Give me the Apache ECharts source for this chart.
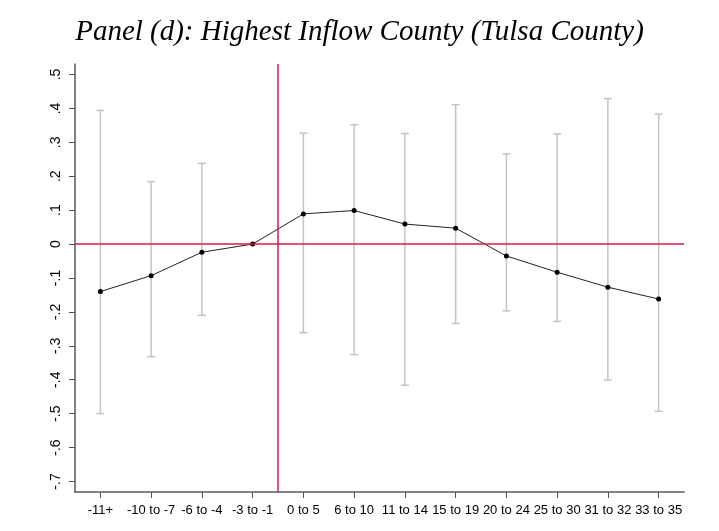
<!DOCTYPE html>
<html>
<head>
<meta charset="utf-8">
<script src="https://cdn.jsdelivr.net/npm/echarts@6/dist/echarts.min.js"></script>
<style>html,body{margin:0;padding:0;background:#fff}#chart{width:719px;height:531px}</style>
</head>
<body>
<div id="chart"></div>
<script>
const categories = ['-11+', '-10 to -7', '-6 to -4', '-3 to -1', '0 to 5', '6 to 10', '11 to 14', '15 to 19', '20 to 24', '25 to 30', '31 to 32', '33 to 35'];
const estimates = [-0.140, -0.093, -0.024, 0.000, 0.089, 0.099, 0.059, 0.047, -0.035, -0.083, -0.127, -0.162];
const upperCI = [0.394, 0.184, 0.238, null, 0.327, 0.352, 0.326, 0.411, 0.266, 0.325, 0.429, 0.383];
const lowerCI = [-0.500, -0.332, -0.210, null, -0.261, -0.326, -0.416, -0.234, -0.197, -0.228, -0.401, -0.493];
const yTicks = [0.5, 0.4, 0.3, 0.2, 0.1, 0, -0.1, -0.2, -0.3, -0.4, -0.5, -0.6, -0.7];
const eventLine = 3.5;

const chart = echarts.init(document.getElementById('chart'), null, {renderer: 'canvas'});
const idx = categories.map((c, i) => i);
const pointData = estimates.map((v, i) => [i, v]);
const ciData = [];
categories.forEach((c, i) => { if (upperCI[i] !== null) ciData.push([i, lowerCI[i], upperCI[i]]); });

function fmtY(v) {
  const r = Math.round(v * 10) / 10;
  if (r === 0) return '0';
  let s = r.toFixed(1);
  return s.replace('0.', '.');
}

chart.setOption({
  backgroundColor: '#fff',
  animation: false,
  title: {
    text: 'Panel (d): Highest Inflow County (Tulsa County)',
    left: 'center',
    top: 13,
    textStyle: {fontFamily: 'Liberation Serif', fontStyle: 'italic', fontWeight: 'normal', fontSize: 29, color: '#000'}
  },
  grid: {left: 75, right: 35, top: 64, bottom: 39},
  xAxis: {
    type: 'value', min: -0.5, max: 11.5,
    splitLine: {show: false},
    axisLine: {show: true, onZero: false, lineStyle: {color: '#5a5a5a', width: 1.5}},
    axisTick: {show: true, customValues: idx, length: 6, lineStyle: {color: '#555', width: 1}},
    axisLabel: {customValues: idx, formatter: v => categories[Math.round(v)], margin: 12, fontFamily: 'Liberation Sans', fontSize: 13, color: '#000', hideOverlap: false}
  },
  yAxis: {
    type: 'value', min: -0.731, max: 0.531,
    splitLine: {show: false},
    axisLine: {show: true, onZero: false, lineStyle: {color: '#5a5a5a', width: 1.5}},
    axisTick: {show: true, customValues: yTicks, length: 6, lineStyle: {color: '#555', width: 1}},
    axisLabel: {customValues: yTicks, formatter: fmtY, rotate: 90, margin: 12, fontFamily: 'Liberation Sans', fontSize: 14, color: '#000', hideOverlap: false}
  },
  series: [
    {
      type: 'custom',
      z: 1,
      data: ciData,
      renderItem: function (params, api) {
        const x = api.value(0);
        const lo = api.coord([x, api.value(1)]);
        const hi = api.coord([x, api.value(2)]);
        const hw = 4;
        const style = {stroke: '#c4c4c4', lineWidth: 1.5};
        return {
          type: 'group',
          children: [
            {type: 'line', shape: {x1: lo[0], y1: lo[1], x2: hi[0], y2: hi[1]}, style: style},
            {type: 'line', shape: {x1: lo[0] - hw, y1: lo[1], x2: lo[0] + hw, y2: lo[1]}, style: style},
            {type: 'line', shape: {x1: hi[0] - hw, y1: hi[1], x2: hi[0] + hw, y2: hi[1]}, style: style}
          ]
        };
      }
    },
    {
      type: 'line',
      z: 2,
      data: [],
      markLine: {
        silent: true,
        symbol: 'none',
        label: {show: false},
        lineStyle: {color: '#d81b4a', width: 1.5, type: 'solid'},
        data: [{yAxis: 0}, {xAxis: eventLine}]
      }
    },
    {
      type: 'line',
      z: 3,
      data: pointData,
      symbol: 'circle',
      symbolSize: 5,
      itemStyle: {color: '#000'},
      lineStyle: {color: '#222', width: 1}
    }
  ]
});
</script>
</body>
</html>
